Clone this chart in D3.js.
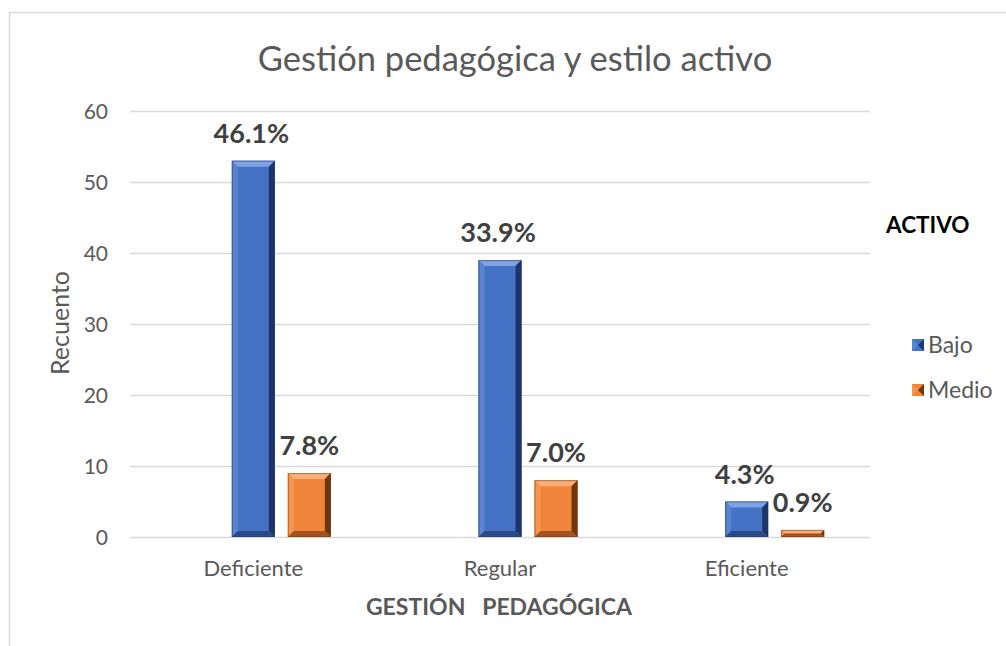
<!DOCTYPE html>
<html><head><meta charset="utf-8">
<script src="https://cdn.jsdelivr.net/npm/d3@7"></script>
<style>body{margin:0;background:#fff}svg{display:block}text{font-family:Lato,"Open Sans",sans-serif}</style>
</head><body><svg id="c" width="1006" height="646"></svg>
<script>
const categories = ["Deficiente", "Regular", "Eficiente"];
const seriesNames = ["Bajo", "Medio"];
const bajoValues = [53, 39, 5];
const medioValues = [9, 8, 1];
const bajoLabels = ["46.1%", "33.9%", "4.3%"];
const medioLabels = ["7.8%", "7.0%", "0.9%"];
const yTicks = [0, 10, 20, 30, 40, 50, 60];
const titleText = "Gestión pedagógica y estilo activo";
const xTitle = "GESTIÓN   PEDAGÓGICA";
const yTitle = "Recuento";
const legendTitle = "ACTIVO";

const svg = d3.select("#c");
const W = 1006, H = 646;
const plot = {l:130, r:870, t:111, b:537};

// frame
svg.append("path").attr("d", `M9.5,${H} V12.5 H${W}`).attr("fill","none").attr("stroke","#d9d9d9").attr("stroke-width",1.5);

const x0 = d3.scaleBand().domain(categories).range([plot.l, plot.r]).paddingInner(0).paddingOuter(0);
const slots = ["_gap", ...seriesNames];
const x1 = d3.scaleBand().domain(slots).range([0, 155]).paddingInner(13/56).paddingOuter(0);
const y = d3.scaleLinear().domain([0, 60]).range([plot.b, plot.t]);

// grid
svg.append("g").selectAll("line").data(yTicks).join("line")
  .attr("x1", plot.l).attr("x2", plot.r)
  .attr("y1", d => Math.round(y(d)) + 0.5).attr("y2", d => Math.round(y(d)) + 0.5)
  .attr("stroke", "#d9d9d9").attr("stroke-width", 1.5);

// y axis labels
const yAxis = d3.axisLeft(y).tickValues(yTicks).tickSize(0).tickPadding(0);
const gy = svg.append("g").attr("transform", `translate(108,0)`).call(yAxis);
gy.select(".domain").remove();
gy.selectAll("text").attr("font-size", 21).attr("fill", "#595959").attr("font-family","Lato, sans-serif").attr("dy","0.36em");

// x axis labels
const xAxis = d3.axisBottom(x0).tickSize(0).tickPadding(0);
const gx = svg.append("g").attr("transform", `translate(0,576)`).call(xAxis);
gx.select(".domain").remove();
gx.selectAll("text").attr("font-size", 22).attr("fill", "#595959").attr("font-family","Lato, sans-serif").attr("dy","0");

const styles = {
  Bajo:  {fill:"#4472C4", top:"#7fa2e2", left:"#5a84d0", right:"#1c356a", bottom:"#2a4a88"},
  Medio: {fill:"#F0843A", top:"#fab07a", left:"#f49552", right:"#72360c", bottom:"#a4531c"}
};

const data = [];
categories.forEach((c, i) => {
  data.push({cat:c, s:"Bajo", v:bajoValues[i], lab:bajoLabels[i]});
  data.push({cat:c, s:"Medio", v:medioValues[i], lab:medioLabels[i]});
});

// group start so that the Bajo slot is centered on the category
const groupOff = c => x0(c) + x0.bandwidth()/2 - (x1("Bajo") + x1.bandwidth()/2);

const bars = svg.append("g").selectAll("g").data(data).join("g");
bars.each(function(d) {
  const g = d3.select(this);
  const xl = groupOff(d.cat) + x1(d.s), w = x1.bandwidth();
  const yt = y(d.v), yb = y(0), h = yb - yt;
  const st = styles[d.s];
  const b = Math.min(6, h/2, w/2);
  g.append("rect").attr("x", xl).attr("y", yt).attr("width", w).attr("height", h).attr("fill", st.fill);
  const xr = xl + w;
  g.append("polygon").attr("points", `${xl},${yt} ${xr},${yt} ${xr-b},${yt+b} ${xl+b},${yt+b}`).attr("fill", st.top);
  g.append("polygon").attr("points", `${xl},${yt} ${xl+b},${yt+b} ${xl+b},${yb-b} ${xl},${yb}`).attr("fill", st.left);
  g.append("polygon").attr("points", `${xr},${yt} ${xr},${yb} ${xr-b},${yb-b} ${xr-b},${yt+b}`).attr("fill", st.right);
  g.append("polygon").attr("points", `${xl},${yb} ${xl+b},${yb-b} ${xr-b},${yb-b} ${xr},${yb}`).attr("fill", st.bottom);
  g.append("rect").attr("x", xl+0.5).attr("y", yt+0.5).attr("width", w-1).attr("height", Math.max(0,h-1)).attr("fill","none").attr("stroke", st.right).attr("stroke-opacity",0.5);
});

// data labels
svg.append("g").selectAll("text").data(data).join("text")
  .attr("x", d => groupOff(d.cat) + x1(d.s) + x1.bandwidth()/2 - (d.s==="Bajo"?2:0))
  .attr("y", d => y(d.v) - 18)
  .attr("text-anchor", "middle")
  .attr("font-size", 27).attr("font-weight", "bold").attr("fill", "#404040")
  .text(d => d.lab);

// title
svg.append("text").attr("x", 515).attr("y", 71).attr("text-anchor","middle")
  .attr("font-size", 34.5).attr("fill", "#595959").text(titleText);

// y title
svg.append("text").attr("transform", `translate(69,323) rotate(-90)`).attr("text-anchor","middle")
  .attr("font-size", 25).attr("fill", "#595959").text(yTitle);

// x title
svg.append("text").attr("x", 499).attr("y", 615).attr("text-anchor","middle")
  .attr("font-size", 23).attr("font-weight","bold").attr("fill", "#595959")
  .style("white-space","pre").text(xTitle);

// legend
svg.append("text").attr("x", 886).attr("y", 233).attr("font-size", 22.5).attr("font-weight","bold").attr("fill","#000").text(legendTitle);
const leg = svg.append("g").selectAll("g").data(seriesNames).join("g")
  .attr("transform", (d,i) => `translate(912,${339 + i*45})`);
leg.append("rect").attr("width", 12).attr("height", 12).attr("fill", d => styles[d].fill);
leg.append("polygon").attr("points","0,0 6,6 0,12").attr("fill", d => styles[d].left);
leg.append("polygon").attr("points","12,0 6,6 12,12").attr("fill", d => styles[d].right);
leg.append("text").attr("x", 16).attr("y", 14).attr("font-size", 23).attr("fill","#595959").text(d => d);
</script></body></html>
